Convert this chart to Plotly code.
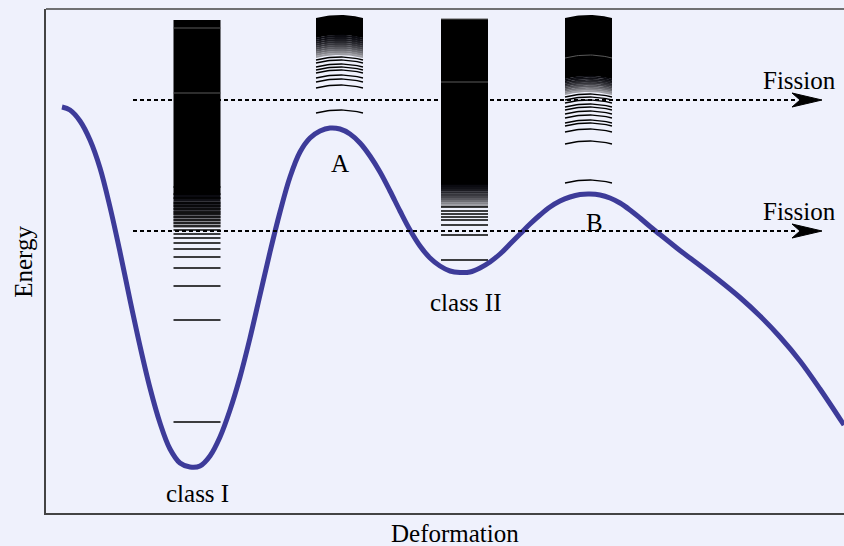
import plotly.graph_objects as go

# ---------------- data (arbitrary units: deformation, energy) ----------------
deformation = [62, 70, 80, 90, 100, 110, 120, 130, 140, 150, 160, 170, 180, 190, 200, 210,
               220, 230, 240, 250, 260, 270, 280, 290, 300, 310, 320, 330, 340, 350, 360,
               370, 380, 390, 400, 410, 420, 430, 440, 450, 460, 470, 480, 490, 500, 510,
               520, 530, 540, 550, 560, 570, 580, 590, 600, 610, 620, 630, 640, 650, 660,
               670, 680, 690, 700, 720, 740, 760, 780, 800, 820, 844]
energy = [406, 403, 392, 373, 345, 306, 261, 213, 167, 125, 90, 64, 50, 46, 47, 57,
          76, 103, 136, 175, 218, 261, 301, 336, 361, 375, 382, 385, 384, 379, 370,
          357, 341, 322, 302, 283, 267, 255, 247, 242, 240.5, 241, 245, 251, 259, 269,
          279, 289, 298, 306, 312, 316, 318.5, 319, 318, 315, 310, 303, 295, 286.5, 278.5,
          270.5, 262.5, 255, 247.5, 232, 215.5, 197, 176, 152, 124, 88]

# level schemes: [left, right] deformation extent, band top, solid-band end, fade end
stack_names = ["class I", "A", "class II", "B"]
stack_left = [173.5, 316, 441, 565]
stack_right = [220.5, 363, 488, 612]
band_top = [493, 495, 494, 495]
band_solid_end = [318, 475, 328, 434]
band_fade_end = [285, 455, 306, 418]
stack_sag = [0, 3, 0, 3]
levels_classI = [326, 319, 315, 310, 307, 304, 301, 299, 296, 293, 290, 287, 283, 279,
                 275, 270, 264, 256, 245, 227, 193, 91]
levels_A = [453, 450, 446, 443, 440, 435, 431, 425, 400]
levels_classII = [306, 302, 299, 296, 293, 288, 278, 253]
levels_B = [416, 413, 410, 406, 403, 399, 395, 390, 387, 381, 369, 330]
inner_lines = [[485, 420], [], [431, 494], [455]]
all_levels = [levels_classI, levels_A, levels_classII, levels_B]

# fission paths
fission_energy = [413, 282]
fission_start = 133
fission_end = 822

# labels
label_text = ["A", "class II", "B", "class I"]
label_x = [340, 466, 594, 197]
label_y = [350, 211, 291, 20]

FONT = "Liberation Serif, Times New Roman, serif"
BG = "#eff1fc"

fig = go.Figure()


def arc(x0, x1, e, sag, n=25):
    xc = (x0 + x1) / 2
    hw = (x1 - x0) / 2
    xs = [x0 + (x1 - x0) * i / (n - 1) for i in range(n)]
    ys = [e + sag * (1 - ((x - xc) / hw) ** 2) for x in xs]
    return xs, ys


def band(x0, x1, e_hi, e_lo, sag, color):
    xt, yt = arc(x0, x1, e_hi, sag)
    xb, yb = arc(x0, x1, e_lo, sag)
    xs = xt + xb[::-1] + [xt[0]]
    ys = yt + yb[::-1] + [yt[0]]
    fig.add_trace(go.Scatter(x=xs, y=ys, mode="lines", fill="toself", fillcolor=color,
                             line=dict(width=0, color=color), hoverinfo="skip",
                             showlegend=False))


NSLICE = 10
for i in range(4):
    x0, x1, sag = stack_left[i], stack_right[i], stack_sag[i]
    # solid part of the dense continuum
    band(x0, x1, band_top[i], band_solid_end[i], sag, "#000000")
    # fading part
    step = (band_solid_end[i] - band_fade_end[i]) / NSLICE
    for k in range(NSLICE):
        f = (k + 0.5) / NSLICE
        g = int(10 + (f ** 1.6) * 160)
        band(x0, x1, band_solid_end[i] - k * step + 0.3,
             band_solid_end[i] - (k + 1) * step, sag, f"rgb({g},{g},{g+6})")
    # inner gray lines
    xs, ys = [], []
    for e in inner_lines[i]:
        ax, ay = arc(x0, x1, e, sag)
        xs += ax + [None]
        ys += ay + [None]
    if xs:
        fig.add_trace(go.Scatter(x=xs, y=ys, mode="lines",
                                 line=dict(color="#5a5a5a", width=1),
                                 hoverinfo="skip", showlegend=False))
    # discrete levels
    xs, ys = [], []
    for e in all_levels[i]:
        ax, ay = arc(x0, x1, e, sag)
        xs += ax + [None]
        ys += ay + [None]
    fig.add_trace(go.Scatter(x=xs, y=ys, mode="lines",
                             line=dict(color="#000000", width=1.3),
                             hoverinfo="skip", showlegend=False))

# potential energy curve
fig.add_trace(go.Scatter(x=deformation, y=energy, mode="lines",
                         line=dict(color="#3d3b99", width=5, shape="spline", smoothing=1.0),
                         hoverinfo="skip", showlegend=False))

# fission arrows
for e in fission_energy:
    fig.add_trace(go.Scatter(x=[fission_start, fission_end - 24], y=[e, e], mode="lines",
                             line=dict(color="black", width=2, dash="4px,3px"),
                             hoverinfo="skip", showlegend=False))
    tip = fission_end
    fig.add_trace(go.Scatter(x=[tip, tip - 30, tip - 22, tip - 30, tip],
                             y=[e, e + 7, e, e - 7, e], mode="lines", fill="toself",
                             fillcolor="black", line=dict(color="black", width=1),
                             hoverinfo="skip", showlegend=False))
    fig.add_annotation(x=838, y=e + 20, text="Fission", showarrow=False, xanchor="right",
                       font=dict(family=FONT, size=25, color="black"))

for t, x, y in zip(label_text, label_x, label_y):
    fig.add_annotation(x=x, y=y, text=t, showarrow=False,
                       font=dict(family=FONT, size=25, color="black"))

fig.add_annotation(xref="paper", yref="paper", x=0.512, y=-0.041, text="Deformation",
                   xanchor="center", yanchor="middle",
                   showarrow=False, font=dict(family=FONT, size=25, color="black"))
fig.add_annotation(xref="paper", yref="y", x=-0.029, y=251, text="Energy", textangle=-90,
                   xanchor="center", yanchor="middle",
                   showarrow=False, font=dict(family=FONT, size=25, color="black"))

# top frame line
fig.add_shape(type="line", xref="paper", yref="paper", x0=0, x1=1, y0=1, y1=1,
              line=dict(color="#444", width=1.5))

fig.update_layout(
    width=844, height=546,
    margin=dict(l=46, r=0, t=9, b=33),
    paper_bgcolor=BG, plot_bgcolor=BG,
    xaxis=dict(range=[46, 844], showgrid=False, zeroline=False, showticklabels=False,
               ticks="", showline=True, linecolor="#444", linewidth=1.5),
    yaxis=dict(range=[0, 504], showgrid=False, zeroline=False, showticklabels=False,
               ticks="", showline=True, linecolor="#444", linewidth=1.5),
)

fig.write_html("out.html", config={"displayModeBar": False},
               post_script="document.body.style.margin='0';"
                           "document.body.style.background='" + BG + "';")
